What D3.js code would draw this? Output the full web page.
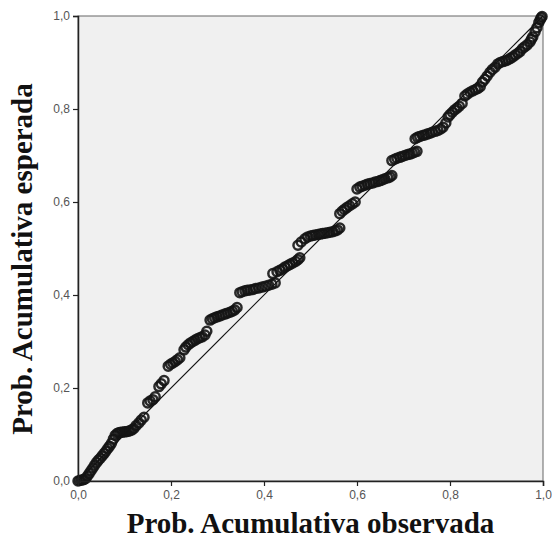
<!DOCTYPE html>
<html>
<head>
<meta charset="utf-8">
<script src="https://cdn.jsdelivr.net/npm/d3@7"></script>
<style>
  body { margin: 0; background: #fff; }
  .tick text { font-family: Arial, "Liberation Sans", sans-serif; font-size: 12px; fill: #555; }
  .axisTitle { font-family: "Times New Roman", "Liberation Serif", serif; font-weight: bold; font-size: 29px; fill: #111; }
</style>
</head>
<body>
<svg id="chart" width="552" height="540"></svg>
<script>
// observed cumulative probability (x) / expected cumulative probability (y)
const obsProb = [
  0.000,0.004,0.008,0.012,0.016,0.020,0.024,0.028,0.032,0.036,0.040,0.044,0.048,0.052,0.056,0.060,0.064,0.068,0.072,0.076,
  0.080,0.084,0.088,0.092,0.096,0.100,0.104,0.108,0.112,0.116,0.120,0.125,0.131,0.136,0.142,
  0.150,0.155,0.161,0.166,0.174,0.179,0.185,
  0.194,0.199,0.204,0.209,0.214,0.219,
  0.228,0.232,0.237,0.242,0.247,0.252,0.257,0.262,0.267,0.273,0.277,
  0.284,0.289,0.294,0.299,0.305,0.310,0.316,0.321,0.327,0.332,0.337,0.342,
  0.348,0.353,0.359,0.364,0.370,0.376,0.382,0.389,0.396,0.403,0.410,0.417,0.424,
  0.419,0.428,0.434,0.440,0.445,0.451,0.456,0.462,0.468,0.473,0.477,
  0.473,0.480,0.488,0.494,0.500,0.505,0.510,0.516,0.521,0.526,0.531,0.537,0.542,0.548,0.553,0.558,0.563,
  0.563,0.568,0.573,0.578,0.584,0.590,0.596,
  0.600,0.606,0.611,0.617,0.622,0.628,0.634,0.639,0.645,0.650,0.655,0.660,0.666,0.671,0.675,
  0.675,0.681,0.686,0.692,0.697,0.703,0.709,0.714,0.719,0.724,0.729,
  0.725,0.730,0.735,0.741,0.746,0.751,0.757,0.762,0.768,0.774,0.780,0.785,0.791,
  0.796,0.800,0.805,0.810,0.815,0.820,0.826,
  0.832,0.837,0.843,0.849,0.855,0.860,0.865,
  0.870,0.875,0.880,0.886,0.891,0.897,
  0.903,0.908,0.914,0.920,0.925,0.930,0.935,0.940,0.946,0.951,
  0.956,0.961,0.966,0.972,0.975,0.978,0.983,0.987,0.991,0.994,0.996,0.998
];
const expProb = [
  0.000,0.001,0.002,0.003,0.005,0.010,0.016,0.022,0.028,0.034,0.040,0.045,0.049,0.054,0.059,0.064,0.070,0.075,0.081,0.090,
  0.098,0.102,0.104,0.105,0.105,0.106,0.106,0.107,0.108,0.110,0.113,0.119,0.125,0.131,0.137,
  0.168,0.172,0.175,0.181,0.203,0.209,0.216,
  0.247,0.251,0.254,0.257,0.261,0.265,
  0.282,0.288,0.293,0.297,0.300,0.303,0.306,0.308,0.310,0.314,0.322,
  0.346,0.349,0.351,0.353,0.355,0.357,0.359,0.361,0.363,0.365,0.368,0.373,
  0.405,0.407,0.409,0.410,0.411,0.412,0.414,0.415,0.417,0.419,0.421,0.423,0.426,
  0.446,0.450,0.453,0.456,0.460,0.463,0.466,0.469,0.472,0.476,0.480,
  0.507,0.514,0.521,0.525,0.527,0.528,0.529,0.530,0.531,0.532,0.533,0.534,0.535,0.536,0.538,0.540,0.544,
  0.575,0.580,0.584,0.588,0.592,0.596,0.600,
  0.628,0.632,0.634,0.636,0.638,0.640,0.641,0.643,0.644,0.646,0.648,0.650,0.652,0.654,0.657,
  0.689,0.692,0.694,0.696,0.698,0.700,0.702,0.703,0.705,0.707,0.709,
  0.736,0.739,0.741,0.743,0.744,0.746,0.748,0.750,0.752,0.754,0.757,0.761,0.770,
  0.783,0.788,0.793,0.798,0.802,0.806,0.812,
  0.828,0.832,0.836,0.839,0.842,0.844,0.848,
  0.858,0.864,0.871,0.879,0.885,0.890,
  0.897,0.900,0.902,0.904,0.906,0.909,0.912,0.916,0.920,0.924,
  0.930,0.934,0.938,0.944,0.950,0.955,0.966,0.975,0.986,0.992,0.996,0.999
];
const tickVals = [0, 0.2, 0.4, 0.6, 0.8, 1.0];
const xTitle = "Prob. Acumulativa observada";
const yTitle = "Prob. Acumulativa esperada";

const svg = d3.select("#chart");
const margin = {top: 16, right: 9, bottom: 59, left: 78};
const W = 552 - margin.left - margin.right;
const H = 540 - margin.top - margin.bottom;
const fmt = d => d3.format(".1f")(d).replace(".", ",");

const x = d3.scaleLinear().domain([0, 1]).range([0, W]);
const y = d3.scaleLinear().domain([0, 1]).range([H, 0]);

const g = svg.append("g").attr("transform", `translate(${margin.left},${margin.top})`);

g.append("rect")
  .attr("width", W).attr("height", H)
  .attr("fill", "#f0f0f0")
  .attr("stroke", "#666")
  .attr("stroke-width", 1);

// reference diagonal
g.append("path")
  .attr("d", d3.line()([[x(0), y(0)], [x(1), y(1)]]))
  .attr("stroke", "#111")
  .attr("stroke-width", 1.2)
  .attr("fill", "none");

const pts = obsProb.map((d, i) => ({o: d, e: expProb[i]}));
g.selectAll("circle.pt")
  .data(pts)
  .join("circle")
  .attr("class", "pt")
  .attr("cx", d => x(d.o))
  .attr("cy", d => y(d.e))
  .attr("r", 4.5)
  .attr("fill", "none")
  .attr("stroke", "#141414")
  .attr("stroke-opacity", 0.9)
  .attr("stroke-width", 2.5);

const xAxis = g.append("g")
  .attr("transform", `translate(0,${H})`)
  .call(d3.axisBottom(x).tickValues(tickVals).tickFormat(fmt).tickSize(5).tickPadding(4));
const yAxis = g.append("g")
  .call(d3.axisLeft(y).tickValues(tickVals).tickFormat(fmt).tickSize(5).tickPadding(3));
[xAxis, yAxis].forEach(a => {
  a.select(".domain").attr("stroke", "#222").attr("stroke-width", 1.5);
  a.selectAll(".tick line").attr("stroke", "#222").attr("stroke-width", 1.2);
});

svg.append("text")
  .attr("class", "axisTitle")
  .attr("x", margin.left + W / 2)
  .attr("y", 533)
  .attr("text-anchor", "middle")
  .text(xTitle);

svg.append("text")
  .attr("class", "axisTitle")
  .attr("transform", `translate(32,259) rotate(-90)`)
  .attr("text-anchor", "middle")
  .text(yTitle);
</script>
</body>
</html>
